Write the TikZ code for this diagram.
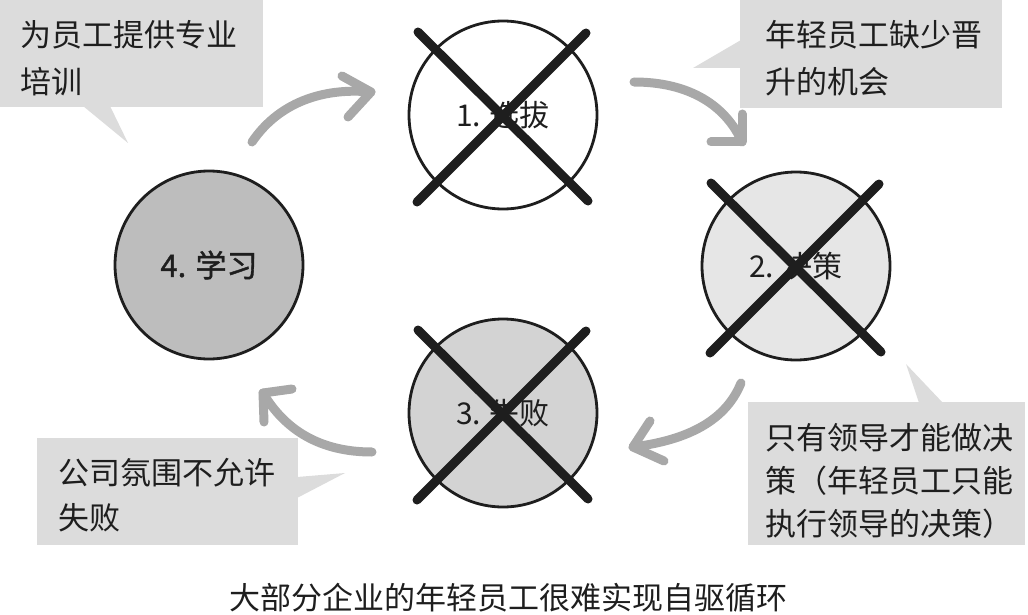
\documentclass[tikz,border=0pt]{standalone}
\usepackage{fontspec}
\setmainfont{Noto Sans CJK SC}
\newfontfamily\semibold[FakeBold=1.2]{Noto Sans CJK SC}
\usetikzlibrary{calc}
\definecolor{callgray}{HTML}{DCDCDC}
\definecolor{arrgray}{HTML}{A8A8A8}
\definecolor{fillA}{HTML}{FFFFFF}
\definecolor{fillB}{HTML}{E6E6E6}
\definecolor{fillC}{HTML}{D3D3D3}
\definecolor{fillD}{HTML}{BDBDBD}
\definecolor{ink}{HTML}{1E1E1E}
\tikzset{
  stage/.style={circle, draw=ink, line width=2.8pt, minimum size=188pt, inner sep=0pt,
    text=ink, font=\fontsize{30}{36}\selectfont},
  cross/.style={draw=ink, line width=9pt, line cap=round},
  brush/.style={draw=arrgray, line width=9pt, line cap=round, line join=round},
  bubble/.style={fill=callgray},
  btext/.style={anchor=base west, inner sep=0pt, text=ink, font=\fontsize{31}{38}\selectfont},
}
\begin{document}
\begin{tikzpicture}[x=1pt,y=-1pt]
\useasboundingbox (0,0) rectangle (1028,615);

% callouts
\fill[bubble] (0,0) rectangle (263,107);
\fill[bubble] (83,106) -- (110,106) -- (128,143) -- cycle;
\node[btext] (c1a) at (20,47) {为员工提供专业};
\node[btext] (c1b) at (20,94) {培训};

\fill[bubble] (740,0) rectangle (1002,108);
\fill[bubble] (741,40) -- (693,68) -- (741,68) -- cycle;
\node[btext] (c2a) at (765,47) {年轻员工缺少晋};
\node[btext] (c2b) at (765,94) {升的机会};

\fill[bubble] (748,402) rectangle (1025,545);
\fill[bubble] (919,403) -- (906,364) -- (943,403) -- cycle;
\node[btext] (c3a) at (765,449) {只有领导才能做决};
\node[btext] (c3b) at (765,492) {策（年轻员工只能};
\node[btext] (c3c) at (765,535) {执行领导的决策）};

\fill[bubble] (37,438) rectangle (298,545);
\fill[bubble] (297,477) -- (345,473) -- (297,498) -- cycle;
\node[btext] (c4a) at (58,484) {公司氛围不允许};
\node[btext] (c4b) at (58,529) {失败};

% stages
\node[stage, fill=fillA] (s1) at (503,115) {1. 选拔};
\node[stage, fill=fillB] (s2) at (796,266) {2. 决策};
\node[stage, fill=fillC] (s3) at (503,413) {3. 失败};
\node[stage, fill=fillD, font=\fontsize{31}{36}\semibold] (s4) at (209,265) {4. 学习};

% crosses
\foreach \s in {s1,s2,s3}{
  \draw[cross] ([shift={(-85,-83)}]\s.center) -- ([shift={(85,86)}]\s.center);
  \draw[cross] ([shift={(83,-82)}]\s.center) -- ([shift={(-86,87)}]\s.center);
}

% brush arrows
\coordinate (a1s) at (252,142); \coordinate (a1e) at (371,92);
\draw[brush] (a1s) .. controls (282,98) and (330,88) .. (a1e);
\draw[brush] (342,76) -- (a1e) -- (348,117);

\coordinate (a2s) at (634,82); \coordinate (a2e) at (742,142);
\draw[brush] (a2s) .. controls (690,82) and (726,106) .. (a2e);
\draw[brush] (742,114) -- (a2e) -- (711,142);

\coordinate (a3s) at (741,383); \coordinate (a3e) at (633,447);
\draw[brush] (a3s) .. controls (724,425) and (680,441) .. (a3e);
\draw[brush] (650,421) -- (a3e) -- (664,461);

\coordinate (a4s) at (372,452); \coordinate (a4e) at (263,393);
\draw[brush] (a4s) .. controls (320,452) and (285,430) .. (a4e);
\draw[brush] (292,389) -- (a4e) -- (264,422);

% caption
\node[anchor=base, inner sep=0pt, text=ink, font=\fontsize{31}{38}\selectfont] (cap) at (508,609) {大部分企业的年轻员工很难实现自驱循环};
\end{tikzpicture}
\end{document}
